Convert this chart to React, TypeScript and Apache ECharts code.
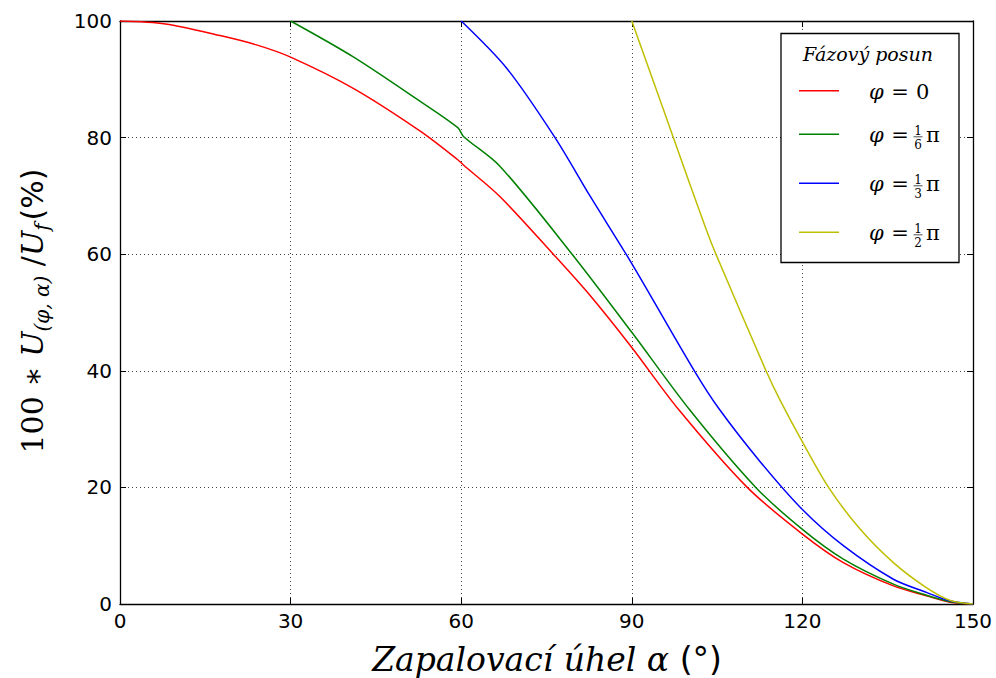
import React, { useEffect, useRef } from "react";
import * as echarts from "echarts";

// ---- data ----
const seriesNames = ["φ = 0", "φ = 1/6 π", "φ = 1/3 π", "φ = 1/2 π"];
const seriesColors = ["#ff0000", "#008000", "#0000ff", "#bfbf00"];

const alphaPhi0 = [0, 8, 17.6, 24, 30, 41.1, 52.8, 59.4, 60.4, 66.8, 76.2, 82.6, 90, 98.2, 110.3, 120, 127.2, 136, 141.8, 146, 150];
const valuePhi0 = [100, 99.5, 97.5, 95.9, 93.8, 88.4, 81.1, 76.2, 75.3, 69.9, 60, 53, 44, 33.4, 20, 12, 7.1, 3.1, 1.4, 0.3, 0];

const alphaPhi1 = [30, 41.1, 52.8, 59.4, 60.4, 66.8, 79.5, 90, 100.1, 111.8, 120, 127.2, 136, 141.8, 146, 150];
const valuePhi1 = [100, 93.8, 86.2, 81.7, 80.2, 75.1, 60, 46.6, 33.4, 20, 12.8, 7.7, 3.4, 1.5, 0.4, 0];

const alphaPhi2 = [60, 68, 76.5, 82.7, 90, 101, 105.4, 112.5, 120, 127.2, 136, 141.8, 146, 150];
const valuePhi2 = [100, 91.9, 80, 69.9, 58.4, 40, 33.4, 24.5, 16.2, 10, 4.25, 2.0, 0.5, 0];

const alphaPhi3 = [90, 93.6, 97.3, 103.1, 104.8, 113.6, 116, 120, 124.6, 130.1, 136, 141.8, 146, 150];
const valuePhi3 = [100, 90.2, 80, 64.2, 60, 40, 35.1, 27.8, 20, 12.9, 7.1, 2.8, 0.6, 0];

const xMin = 0, xMax = 150, xInterval = 30;
const yMin = 0, yMax = 100, yInterval = 20;

const legendTitle = "Fázový posun";
// legend label parts: [numerator, denominator] or null for "0"
const legendFractions: (null | [string, string])[] = [null, ["1", "6"], ["1", "3"], ["1", "2"]];

const xAxisTitle = "Zapalovací úhel α";
const xAxisUnit = "(°)";

const alphas = [alphaPhi0, alphaPhi1, alphaPhi2, alphaPhi3];
const values = [valuePhi0, valuePhi1, valuePhi2, valuePhi3];

const SERIF = '"DejaVu Serif", serif';
const SANS = '"DejaVu Sans", sans-serif';

function buildLegend(): any[] {
  const els: any[] = [];
  const bx = 781, by = 33.5, bw = 178, bh = 229;
  els.push({ type: "rect", z: 100, shape: { x: bx, y: by, width: bw, height: bh }, style: { fill: "#fff", stroke: "#000", lineWidth: 1.3 } });
  els.push({ type: "text", z: 101, x: 868, y: 54, style: { text: legendTitle, font: `italic 19px ${SERIF}`, fill: "#000", align: "center", verticalAlign: "middle" } });
  const ys = [90.7, 134.3, 183.3, 232.3];
  ys.forEach((L, i) => {
    els.push({ type: "line", z: 101, shape: { x1: 799, y1: L, x2: 839, y2: L }, style: { stroke: seriesColors[i], lineWidth: 1.5 } });
    els.push({ type: "text", z: 101, x: 869, y: L + 1, style: { text: "φ", font: `italic 21px ${SERIF}`, fill: "#000", align: "left", verticalAlign: "middle" } });
    els.push({ type: "text", z: 101, x: 900, y: L + 1, style: { text: "=", font: `21px ${SERIF}`, fill: "#000", align: "center", verticalAlign: "middle" } });
    const fr = legendFractions[i];
    if (!fr) {
      els.push({ type: "text", z: 101, x: 916, y: L + 1, style: { text: "0", font: `21px ${SERIF}`, fill: "#000", align: "left", verticalAlign: "middle" } });
    } else {
      els.push({ type: "text", z: 101, x: 918, y: L - 3.5, style: { text: fr[0], font: `12px ${SERIF}`, fill: "#000", align: "center", verticalAlign: "middle" } });
      els.push({ type: "line", z: 101, shape: { x1: 913.5, y1: L + 2.5, x2: 922.5, y2: L + 2.5 }, style: { stroke: "#000", lineWidth: 0.7 } });
      els.push({ type: "text", z: 101, x: 918, y: L + 10.5, style: { text: fr[1], font: `12px ${SERIF}`, fill: "#000", align: "center", verticalAlign: "middle" } });
      els.push({ type: "text", z: 101, x: 926, y: L + 1, style: { text: "π", font: `21px ${SERIF}`, fill: "#000", align: "left", verticalAlign: "middle" } });
    }
  });
  return els;
}

export default function App() {
  const ref = useRef<HTMLDivElement>(null);
  useEffect(() => {
    if (!ref.current) return;
    const chart = echarts.init(ref.current, undefined, { renderer: "svg" });
    const gridLine = { show: true, lineStyle: { color: "#444", type: [1, 3] as any, width: 1 } };
    const tickStyle = { show: true, inside: true, length: 6, lineStyle: { color: "#000", width: 1 } };
    const axisLine = { show: true, onZero: false, lineStyle: { color: "#000", width: 1.3 } };
    const labelStyle = { color: "#000", fontFamily: SANS, fontSize: 20 };

    const yRich = {
      n: { fontFamily: SERIF, fontSize: 30, lineHeight: 40, verticalAlign: "middle", color: "#000" },
      it: { fontFamily: SERIF, fontStyle: "italic", fontSize: 30, lineHeight: 40, verticalAlign: "middle", color: "#000" },
      sub: { fontFamily: SERIF, fontStyle: "italic", fontSize: 20, lineHeight: 21, verticalAlign: "bottom", color: "#000" },
      pc: { fontFamily: SANS, fontSize: 30, lineHeight: 40, verticalAlign: "middle", color: "#000", padding: [0, 0, 0, 3] },
    };

    chart.setOption({
      animation: false,
      backgroundColor: "#fff",
      grid: { left: 120, top: 21, width: 853, height: 583, containLabel: false },
      xAxis: [
        {
          type: "value", min: xMin, max: xMax, interval: xInterval, position: "bottom",
          axisLine, axisTick: tickStyle, splitLine: gridLine,
          axisLabel: { ...labelStyle, margin: 7, showMinLabel: true, showMaxLabel: true },
        },
        {
          type: "value", min: xMin, max: xMax, interval: xInterval, position: "top",
          axisLine, axisTick: tickStyle, splitLine: { show: false }, axisLabel: { show: false },
        },
      ],
      yAxis: [
        {
          type: "value", min: yMin, max: yMax, interval: yInterval, position: "left",
          axisLine, axisTick: tickStyle, splitLine: gridLine,
          axisLabel: { ...labelStyle, margin: 8, showMinLabel: true, showMaxLabel: true },
        },
        {
          type: "value", min: yMin, max: yMax, interval: yInterval, position: "right",
          axisLine, axisTick: tickStyle, splitLine: { show: false }, axisLabel: { show: false },
        },
      ],
      series: alphas.map((a, i) => ({
        name: seriesNames[i],
        type: "line",
        xAxisIndex: 0,
        yAxisIndex: 0,
        data: a.map((x, j) => [x, values[i][j]]),
        showSymbol: false,
        smooth: 0.3,
        clip: true,
        lineStyle: { color: seriesColors[i], width: 1.5 },
        itemStyle: { color: seriesColors[i] },
      })),
      graphic: [
        ...buildLegend(),
        {
          type: "text", z: 100, x: 547, y: 659,
          style: {
            text: `{it|${xAxisTitle} }{s|${xAxisUnit}}`,
            align: "center", verticalAlign: "middle",
            rich: {
              it: { fontFamily: SERIF, fontStyle: "italic", fontSize: 33, color: "#000" },
              s: { fontFamily: SANS, fontSize: 33, color: "#000" },
            },
          },
        },
        {
          type: "text", z: 100, x: 32, y: 311, rotation: Math.PI / 2,
          style: {
            text: "{n|100 ∗ }{it|U}{sub|(φ, α)}{n| /}{it|U}{sub|f}{pc|(%)}",
            align: "center", verticalAlign: "middle",
            rich: yRich,
          },
        },
      ],
    });
    return () => chart.dispose();
  }, []);
  return <div ref={ref} style={{ position: "fixed", left: 0, top: 0, width: 996, height: 678, background: "#fff" }} />;
}
